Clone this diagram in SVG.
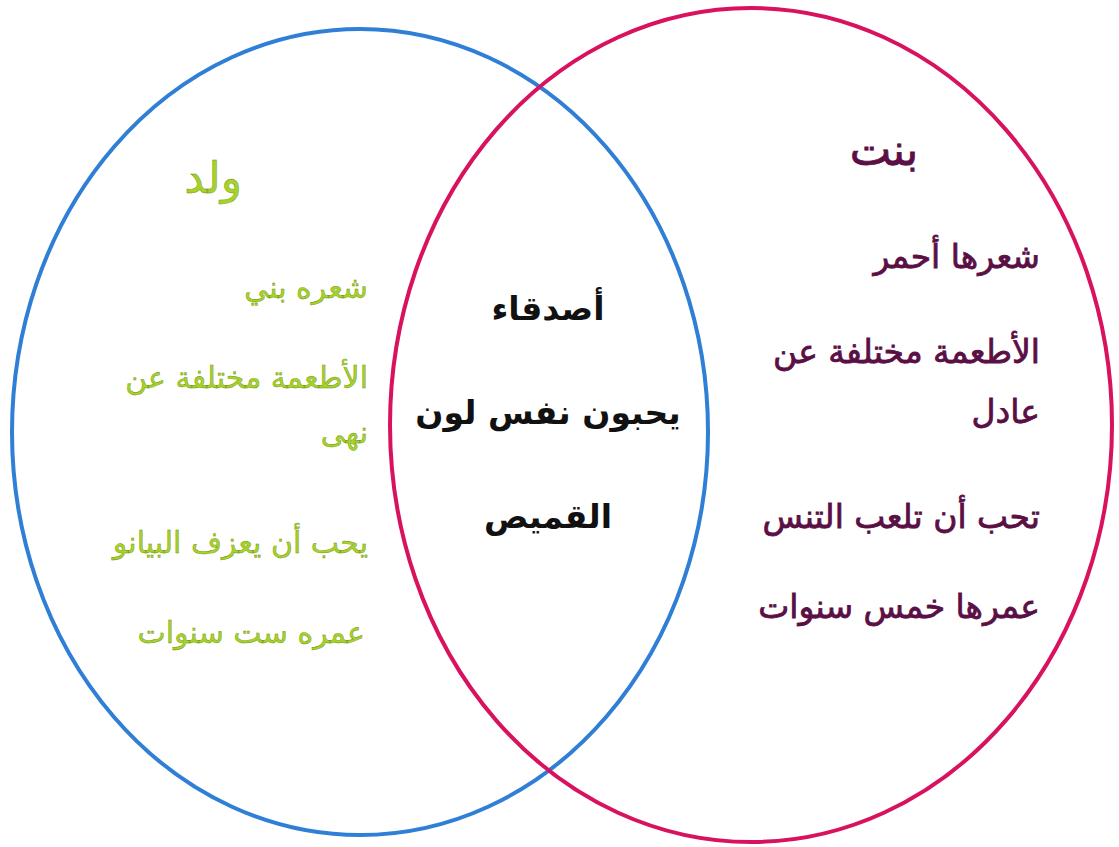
<svg xmlns="http://www.w3.org/2000/svg" width="1119" height="847" viewBox="0 0 1119 847">
<style>
.ring{fill:none;stroke-width:4}
.boy{fill:#a6d22a;font-family:"DejaVu Sans",sans-serif;font-size:30px;stroke:#6e8f10;stroke-width:0.4}
.girl{fill:#5a0f45;font-family:"DejaVu Sans",sans-serif;font-size:33px;stroke:#5a0f45;stroke-width:0.8}
.mid{fill:#111;font-family:"DejaVu Sans",sans-serif;font-size:33px;font-weight:bold}
.title{font-size:44px}
</style>
<rect width="1119" height="847" fill="#fff"/>
<g id="connectors">
<ellipse id="boy-ring" class="ring" cx="360" cy="432" rx="348" ry="403" stroke="#2f7fd6"/>
<ellipse id="girl-ring" class="ring" cx="751" cy="425" rx="361" ry="417" stroke="#d8125e"/>
</g>
<g id="boy">
<text class="boy title" x="213" y="193" text-anchor="middle">ولد</text>
<text class="boy" x="368" y="298" text-anchor="end">شعره بني</text>
<text class="boy" x="368" y="388" text-anchor="end">الأطعمة مختلفة عن</text>
<text class="boy" x="368" y="443" text-anchor="end">نهى</text>
<text class="boy" x="368" y="553" text-anchor="end">يحب أن يعزف البيانو</text>
<text class="boy" x="365" y="643" text-anchor="end">عمره ست سنوات</text>
</g>
<g id="girl">
<text class="girl title" x="884" y="165" text-anchor="middle">بنت</text>
<text class="girl" x="1040" y="268" text-anchor="end">شعرها أحمر</text>
<text class="girl" x="1040" y="363" text-anchor="end">الأطعمة مختلفة عن</text>
<text class="girl" x="1040" y="423" text-anchor="end">عادل</text>
<text class="girl" x="1040" y="528" text-anchor="end">تحب أن تلعب التنس</text>
<text class="girl" x="1040" y="618" text-anchor="end">عمرها خمس سنوات</text>
</g>
<g id="shared">
<text class="mid" x="548" y="320" text-anchor="middle">أصدقاء</text>
<text class="mid" x="548" y="424" text-anchor="middle">يحبون نفس لون</text>
<text class="mid" x="548" y="528" text-anchor="middle">القميص</text>
</g>
</svg>
